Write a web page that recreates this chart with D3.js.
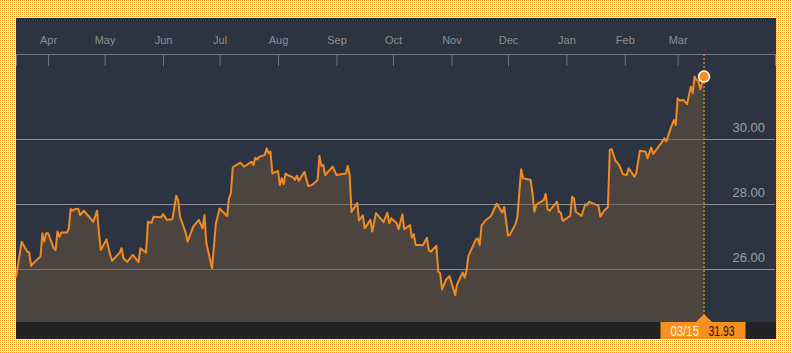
<!DOCTYPE html>
<html>
<head>
<meta charset="utf-8">
<script src="https://cdn.jsdelivr.net/npm/d3@7"></script>
<style>
  html, body { margin: 0; padding: 0; background: #fff6dc; }
  svg { display: block; }
  text { font-family: "Liberation Sans", Arial, Helvetica, sans-serif; }
</style>
</head>
<body>
<svg id="chart" width="792" height="353"></svg>
<script>
// ---------- data ----------
const startDate = "2018-03-15";
const endDomain = "2019-04-21T15:36:00Z";
const dayOffsets = [
  0,3,6,7,8,9,13,14,15,16,
  17,20,21,22,23,24,27,28,29,30,
  31,33,34,36,38,41,43,44,45,48,
  50,51,53,55,56,57,59,62,65,66,
  69,70,72,73,77,78,80,83,85,86,
  87,90,91,92,94,97,99,100,101,104,
  106,108,112,113,114,115,119,121,125,126,
  127,128,129,132,133,134,135,136,139,140,
  141,142,143,144,147,148,149,150,153,155,
  157,160,161,162,163,164,168,170,175,176,
  177,178,181,182,184,185,188,189,191,195,
  197,198,199,202,203,205,206,209,210,211,
  212,216,218,219,220,223,224,225,226,228,
  230,233,234,237,238,239,240,244,245,246,
  247,249,252,255,258,259,261,262,265,266,
  268,269,273,274,275,276,277,280,281,282,
  283,287,288,289,290,294,295,296,297,300,
  302,303,304,309,310,312,314,315,316,318,
  320,322,324,325,328,329,331,334,335,337,
  338,342,344,345,347,349,350,351,352,354,
  356,358,359,360,361,362,363,365
];
const prices = [
  25.75,26.85,26.54,26.52,26.10,26.18,26.39,27.11,26.85,27.11,
  27.11,26.65,26.59,27.16,27.00,27.13,27.13,27.26,27.86,27.80,
  27.85,27.86,27.67,27.80,27.67,27.46,27.80,27.11,26.59,26.92,
  26.44,26.26,26.39,26.51,26.65,26.34,26.23,26.44,26.22,26.65,
  26.51,27.46,27.43,27.62,27.60,27.70,27.52,27.54,28.26,28.13,
  27.62,27.13,26.85,27.00,27.31,27.52,27.26,27.67,26.80,26.03,
  27.39,27.87,27.64,28.18,28.34,29.14,29.28,29.16,29.31,29.21,
  29.43,29.38,29.46,29.52,29.72,29.57,29.62,28.95,29.03,28.59,
  28.80,28.62,28.95,28.90,28.83,28.75,28.88,28.72,29.00,28.56,
  28.59,28.75,29.49,29.18,29.21,28.90,29.16,28.90,28.95,29.18,
  28.90,27.76,28.04,27.50,27.66,27.26,27.52,27.16,27.73,27.45,
  27.74,27.42,27.57,27.42,27.23,27.69,27.23,27.36,26.98,27.08,
  26.75,26.75,26.97,26.59,26.54,26.72,25.93,25.88,25.38,25.67,
  25.79,25.21,25.54,25.90,25.74,25.96,26.41,26.92,26.95,26.75,
  27.35,27.50,27.64,28.02,27.74,27.92,27.04,27.06,27.39,27.62,
  29.08,28.80,28.75,28.34,27.77,27.98,28.03,28.13,28.32,27.85,
  27.80,28.08,27.77,27.74,27.49,27.64,28.23,28.18,27.77,27.64,
  28.00,27.98,28.08,27.95,27.62,27.80,27.91,29.67,29.70,29.34,
  29.21,28.92,28.90,29.11,28.85,28.95,29.65,29.62,29.42,29.75,
  29.55,29.86,30.03,29.93,30.29,30.59,30.44,31.26,31.19,31.21,
  31.08,31.62,31.42,31.93,31.82,31.80,31.54,31.93
];
const monthTicks = ["2018-04-01","2018-05-01","2018-06-01","2018-07-01","2018-08-01","2018-09-01",
                    "2018-10-01","2018-11-01","2018-12-01","2019-01-01","2019-02-01","2019-03-01"];
const yTicks = [26, 28, 30];
const yDomain = [24.378, 32.624];

// ---------- build ----------
const parse = d3.utcParse("%Y-%m-%d");
const start = parse(startDate);
const data = dayOffsets.map((d, i) => ({ date: d3.utcDay.offset(start, d), value: prices[i] }));
const last = data[data.length - 1];

const W = 792, H = 353;
const panel = { x: 16, y: 18, w: 760, h: 321 };
const plotTop = 54, plotBottom = 322, plotLeft = 16, plotRight = 775;

const x = d3.scaleUtc().domain([start, new Date(endDomain)]).range([plotLeft, plotRight]);
const y = d3.scaleLinear().domain(yDomain).range([plotBottom, plotTop]);

const svg = d3.select("#chart");
const defs = svg.append("defs");
const pat = defs.append("pattern").attr("id", "dots").attr("width", 2).attr("height", 2)
  .attr("patternUnits", "userSpaceOnUse");
pat.append("rect").attr("width", 2).attr("height", 2).attr("fill", "#fff7de");
pat.append("rect").attr("width", 1).attr("height", 1).attr("fill", "#f8961e");

svg.append("rect").attr("width", W).attr("height", H).attr("fill", "url(#dots)");
svg.append("rect").attr("x", panel.x).attr("y", panel.y).attr("width", panel.w).attr("height", panel.h)
  .attr("fill", "#2b3440");

// gridlines
svg.append("g").selectAll("line").data(yTicks).join("line")
  .attr("x1", plotLeft).attr("x2", plotRight)
  .attr("y1", d => Math.round(y(d)) + 0.5).attr("y2", d => Math.round(y(d)) + 0.5)
  .attr("stroke", "#8d9196").attr("stroke-width", 1);

// area
const area = d3.area().x(d => x(d.date)).y0(plotBottom).y1(d => y(d.value));
svg.append("path").datum(data).attr("d", area)
  .attr("fill", "rgb(108,84,62)").attr("fill-opacity", 0.5);

// y labels
svg.append("g").selectAll("text").data(yTicks).join("text")
  .attr("x", 765).attr("y", d => y(d) - 7.5)
  .attr("text-anchor", "end").attr("font-size", 13).attr("fill", "#9ba0a6")
  .text(d => d3.format(".2f")(d));

// top axis
const axis = d3.axisBottom(x).tickValues(monthTicks.map(parse))
  .tickFormat(d3.utcFormat("%b")).tickSize(12).tickSizeOuter(12);
const ax = svg.append("g").attr("transform", `translate(0,${plotTop})`).call(axis);
ax.select(".domain").attr("stroke", "#70767d");
ax.selectAll(".tick line").attr("stroke", "#70767d");
ax.selectAll(".tick text").attr("y", -10).attr("dy", 0).attr("fill", "#8b9097")
  .attr("font-size", 11).attr("font-family", "Liberation Sans, Arial, sans-serif");

// bottom strip
svg.append("rect").attr("x", panel.x).attr("y", plotBottom).attr("width", panel.w)
  .attr("height", panel.y + panel.h - plotBottom).attr("fill", "#232323");

// dotted vertical marker
const lx = x(last.date);
svg.append("line").attr("x1", lx).attr("x2", lx).attr("y1", plotTop).attr("y2", 316)
  .attr("stroke", "#b88a2c").attr("stroke-width", 1.5).attr("stroke-dasharray", "2,2");

// line
const line = d3.line().x(d => x(d.date)).y(d => y(d.value));
svg.append("path").datum(data).attr("d", line)
  .attr("fill", "none").attr("stroke", "#f28a24").attr("stroke-width", 2)
  .attr("stroke-linejoin", "round");

// last point circle
svg.append("circle").attr("cx", lx).attr("cy", y(last.value)).attr("r", 5.5)
  .attr("fill", "#f7901e").attr("stroke", "#ffffff").attr("stroke-width", 1.5);

// bottom label
const lbl = svg.append("g");
lbl.append("path")
  .attr("d", `M${lx - 8},${plotBottom} L${lx},${plotBottom - 8} L${lx + 8},${plotBottom} Z`)
  .attr("fill", "#f7901e");
lbl.append("rect").attr("x", 660.5).attr("y", plotBottom).attr("width", 85)
  .attr("height", panel.y + panel.h - plotBottom).attr("fill", "#f7901e");
lbl.append("text").attr("x", 670.5).attr("y", 336).attr("font-size", 14)
  .attr("textLength", 28.5).attr("lengthAdjust", "spacingAndGlyphs")
  .attr("fill", "#fff3e0").text(d3.utcFormat("%m/%d")(last.date));
lbl.append("text").attr("x", 708.5).attr("y", 336).attr("font-size", 14)
  .attr("textLength", 26).attr("lengthAdjust", "spacingAndGlyphs")
  .attr("fill", "#141414").text(d3.format(".2f")(last.value));
</script>
</body>
</html>
